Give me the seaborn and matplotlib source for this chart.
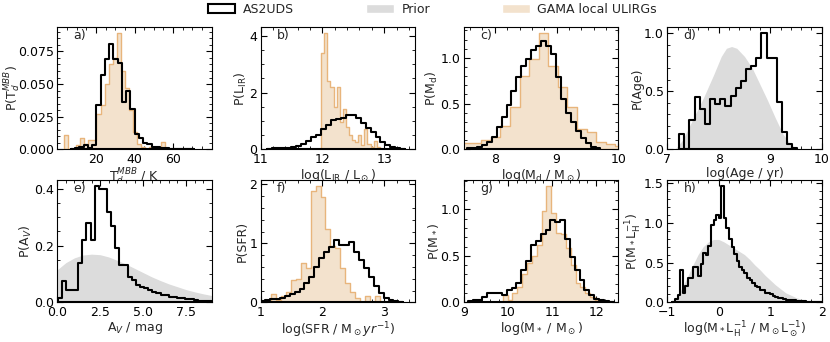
import numpy as np
import pandas as pd
import matplotlib
matplotlib.use('Agg')
import matplotlib.pyplot as plt
from matplotlib.patches import Patch
import seaborn as sns

# ---- histogram data: (first bin edge, bin width, heights) ----
# a) dust temperature
td_as2uds_bins = (7.1, 2.2)
td_as2uds = [0.0, 0.001, 0.002, 0.003, 0.001, 0.003, 0.034, 0.057, 0.069, 0.081,
             0.069, 0.066, 0.036, 0.045, 0.031, 0.012, 0.009, 0.005, 0.004, 0.002,
             0.002, 0.001, 0.001, 0.0005, 0.0005, 0.0, 0.0005, 0.0005, 0.0]
td_gama_bins = (3.5, 2.1)
td_gama = [0.011, 0.0, 0.0, 0.003, 0.009, 0.004, 0.007, 0.007, 0.027, 0.034,
           0.050, 0.065, 0.070, 0.089, 0.060, 0.047, 0.030, 0.013, 0.004, 0.002,
           0.0, 0.002, 0.0, 0.0, 0.006, 0.0]

# b) infrared luminosity
lir_as2uds_bins = (11.10, 0.08)
lir_as2uds = [0.02, 0.03, 0.03, 0.04, 0.06, 0.08, 0.12, 0.18, 0.30, 0.42,
              0.50, 0.70, 0.85, 1.02, 1.08, 1.12, 1.20, 1.20, 1.10, 0.92,
              0.74, 0.60, 0.43, 0.26, 0.14, 0.08, 0.04, 0.02]
lir_gama_bins = (11.98, 0.05)
lir_gama = [3.40, 4.09, 2.40, 2.20, 1.50, 2.19, 0.96, 1.43, 0.80, 0.49,
            0.32, 0.26, 0.49, 0.14, 0.73, 0.20, 0.08, 0.30, 0.08, 0.0]

# c) dust mass
md_as2uds_bins = (7.55, 0.08)
md_as2uds = [0.01, 0.02, 0.03, 0.05, 0.08, 0.13, 0.24, 0.35, 0.49, 0.64,
             0.79, 0.91, 0.99, 1.09, 1.13, 1.18, 1.13, 1.04, 0.79, 0.55,
             0.40, 0.30, 0.20, 0.12, 0.07, 0.03, 0.01]
md_gama_bins = (7.47, 0.155)
md_gama = [0.07, 0.07, 0.10, 0.13, 0.26, 0.46, 0.80, 0.99, 1.27, 0.91,
           0.68, 0.46, 0.22, 0.19, 0.08, 0.06, 0.04]

# d) age
age_as2uds_bins = (7.23, 0.10)
age_as2uds = [0.13, 0.0, 0.25, 0.45, 0.35, 0.22, 0.43, 0.39, 0.43, 0.37,
              0.46, 0.53, 0.59, 0.69, 0.72, 0.79, 1.00, 0.79, 0.79, 0.41,
              0.15, 0.05, 0.01]
age_prior_x = [7.15, 7.3, 7.5, 7.7, 7.9, 8.05, 8.15, 8.25, 8.35, 8.5,
               8.65, 8.8, 8.95, 9.1, 9.25, 9.4, 9.55]
age_prior_y = [0.0, 0.08, 0.26, 0.44, 0.64, 0.80, 0.87, 0.885, 0.87, 0.80,
               0.70, 0.56, 0.42, 0.27, 0.13, 0.04, 0.0]

# e) attenuation
av_as2uds_bins = (0.02, 0.24)
av_as2uds = [0.014, 0.077, 0.044, 0.044, 0.044, 0.14, 0.22, 0.28, 0.22, 0.41,
             0.40, 0.40, 0.32, 0.27, 0.19, 0.13, 0.13, 0.09, 0.08, 0.062,
             0.054, 0.05, 0.044, 0.036, 0.032, 0.027, 0.025, 0.02, 0.018, 0.016,
             0.014, 0.012, 0.011, 0.008, 0.006, 0.005, 0.004, 0.003]
av_prior_x = [0.0, 0.5, 1.0, 1.5, 2.0, 2.5, 3.0, 3.5, 4.0, 4.5,
              5.0, 5.5, 6.0, 6.5, 7.0, 7.5, 8.0, 8.5, 9.0]
av_prior_y = [0.115, 0.14, 0.157, 0.167, 0.17, 0.168, 0.16, 0.148, 0.135, 0.12,
              0.105, 0.09, 0.077, 0.065, 0.055, 0.045, 0.037, 0.03, 0.024]

# f) star formation rate
sfr_as2uds_bins = (0.99, 0.08)
sfr_as2uds = [0.03, 0.04, 0.05, 0.06, 0.08, 0.11, 0.14, 0.18, 0.23, 0.32,
              0.43, 0.60, 0.75, 0.86, 0.94, 1.06, 0.97, 0.97, 1.03, 0.86,
              0.72, 0.58, 0.43, 0.27, 0.15, 0.07, 0.04, 0.02, 0.01]
sfr_gama_bins = (1.17, 0.08)
sfr_gama = [0.14, 0.04, 0.10, 0.18, 0.38, 0.40, 0.66, 0.58, 1.88, 1.97,
            1.79, 1.25, 0.95, 0.92, 0.58, 0.32, 0.18, 0.07, 0.0, 0.10,
            0.0, 0.10, 0.0]

# g) stellar mass
ms_as2uds_bins = (9.09, 0.11)
ms_as2uds = [0.01, 0.02, 0.03, 0.06, 0.10, 0.10, 0.10, 0.08, 0.13, 0.15,
             0.21, 0.35, 0.44, 0.62, 0.66, 0.73, 0.78, 0.89, 0.86, 0.89,
             0.68, 0.49, 0.35, 0.24, 0.13, 0.08, 0.04, 0.02, 0.01, 0.005]
ms_gama_bins = (9.88, 0.11)
ms_gama = [0.08, 0.02, 0.10, 0.16, 0.30, 0.42, 0.50, 0.62, 0.98, 1.25,
           0.96, 0.75, 0.73, 0.58, 0.40, 0.21, 0.17, 0.10, 0.06, 0.03]

# h) mass-to-light ratio
ml_as2uds_bins = (-0.90, 0.05)
ml_as2uds = [0.01, 0.04, 0.09, 0.41, 0.12, 0.20, 0.31, 0.31, 0.44, 0.44,
             0.33, 0.48, 0.62, 0.60, 0.71, 0.97, 1.03, 1.10, 1.06, 1.46,
             1.06, 0.93, 0.80, 0.69, 0.61, 0.52, 0.45, 0.40, 0.37, 0.31,
             0.28, 0.24, 0.21, 0.19, 0.16, 0.15, 0.12, 0.115, 0.10, 0.08,
             0.07, 0.06, 0.05, 0.04, 0.035, 0.03, 0.027, 0.025, 0.018, 0.016,
             0.015, 0.012, 0.01, 0.007, 0.006, 0.005, 0.004, 0.003]
ml_prior_x = [-0.9, -0.8, -0.7, -0.6, -0.5, -0.4, -0.3, -0.2, -0.1, 0.0,
              0.1, 0.2, 0.3, 0.4, 0.5, 0.6, 0.7, 0.8, 0.9, 1.0,
              1.1, 1.2, 1.3, 1.4, 1.5, 1.6, 1.7, 1.8, 1.9, 2.0]
ml_prior_y = [0.0, 0.07, 0.2, 0.33, 0.47, 0.6, 0.7, 0.76, 0.79, 0.79,
              0.76, 0.72, 0.68, 0.64, 0.6, 0.54, 0.47, 0.41, 0.34, 0.28,
              0.22, 0.17, 0.12, 0.09, 0.06, 0.04, 0.025, 0.015, 0.008, 0.004]

# ---- axis ticks ----
td_xticks, td_yticks = [20, 40, 60], [0, 0.025, 0.05, 0.075]
lir_xticks, lir_yticks = [11, 12, 13], [0, 2, 4]
md_xticks, md_yticks = [8, 9, 10], [0, 0.5, 1.0]
age_xticks, age_yticks = [7, 8, 9, 10], [0, 0.5, 1.0]
av_xticks, av_yticks = [0, 2.5, 5.0, 7.5], [0, 0.2, 0.4]
sfr_xticks, sfr_yticks = [1, 2, 3], [0, 1, 2]
ms_xticks, ms_yticks = [9, 10, 11, 12], [0, 0.5, 1.0]
ml_xticks, ml_yticks = [-1, 0, 1, 2], [0, 0.5, 1.0, 1.5]

black = 'black'
prior_col = '#dcdcdc'
gama_face = '#f3e2cd'
gama_edge = '#e8b57c'

sns.set_style('ticks')
plt.rcParams.update({
    'font.size': 9,
    'axes.linewidth': 0.8,
    'axes.edgecolor': 'black',
    'xtick.color': 'black', 'ytick.color': 'black',
    'xtick.direction': 'in', 'ytick.direction': 'in',
    'xtick.top': True, 'ytick.right': True,
    'xtick.minor.visible': True, 'ytick.minor.visible': True,
    'xtick.major.size': 4, 'ytick.major.size': 4,
    'xtick.minor.size': 2, 'ytick.minor.size': 2,
    'xtick.major.width': 0.8, 'ytick.major.width': 0.8,
    'xtick.major.pad': 2.5, 'ytick.major.pad': 2.5,
    'xtick.labelsize': 9, 'ytick.labelsize': 9, 'axes.labelsize': 9,
})

fig, axes = plt.subplots(2, 4, figsize=(8.3, 3.42), dpi=100)
plt.subplots_adjust(left=0.069, right=0.990, top=0.920, bottom=0.116,
                    wspace=0.316, hspace=0.254)


def step_hist(ax, bins, heights, face, edge, lw):
    start, width = bins
    edges = start + width * np.arange(len(heights) + 1)
    df = pd.DataFrame({'x': edges[:-1] + width / 2, 'w': heights})
    sns.histplot(data=df, x='x', weights='w', bins=list(edges),
                 element='step', fill=True, color=edge, facecolor=face,
                 edgecolor=edge, linewidth=lw, ax=ax)


panels = [
    ('a)', (0, 80), td_xticks, td_yticks, r'T$_d^{MBB}$ / K', r'P(T$_d^{MBB}$)',
     (td_as2uds_bins, td_as2uds), (td_gama_bins, td_gama), None),
    ('b)', (11, 13.5), lir_xticks, lir_yticks, r'log(L$_{\rm IR}$ / L$_\odot$)', r'P(L$_{\rm IR}$)',
     (lir_as2uds_bins, lir_as2uds), (lir_gama_bins, lir_gama), None),
    ('c)', (7.5, 10), md_xticks, md_yticks, r'log(M$_{\rm d}$ / M$_\odot$)', r'P(M$_{\rm d}$)',
     (md_as2uds_bins, md_as2uds), (md_gama_bins, md_gama), None),
    ('d)', (7, 10), age_xticks, age_yticks, 'log(Age / yr)', 'P(Age)',
     (age_as2uds_bins, age_as2uds), None, (age_prior_x, age_prior_y)),
    ('e)', (0, 9), av_xticks, av_yticks, r'A$_V$ / mag', r'P(A$_V$)',
     (av_as2uds_bins, av_as2uds), None, (av_prior_x, av_prior_y)),
    ('f)', (1, 3.5), sfr_xticks, sfr_yticks, r'log(SFR / M$_\odot yr^{-1}$)', 'P(SFR)',
     (sfr_as2uds_bins, sfr_as2uds), (sfr_gama_bins, sfr_gama), None),
    ('g)', (9, 12.5), ms_xticks, ms_yticks, r'log(M$_*$ / M$_\odot$)', r'P(M$_*$)',
     (ms_as2uds_bins, ms_as2uds), (ms_gama_bins, ms_gama), None),
    ('h)', (-1, 2), ml_xticks, ml_yticks,
     r'log(M$_*$L$_{\rm H}^{-1}$ / M$_\odot$L$_\odot^{-1}$)', r'P(M$_*$L$_{\rm H}^{-1}$)',
     (ml_as2uds_bins, ml_as2uds), None, (ml_prior_x, ml_prior_y)),
]

for ax, (tag, xlim, xt, yt, xl, yl, main, gama, prior) in zip(axes.flat, panels):
    if prior is not None:
        ax.fill_between(prior[0], prior[1], color=prior_col, lw=0)
    if gama is not None:
        step_hist(ax, gama[0], gama[1], gama_face, gama_edge, 1.0)
    step_hist(ax, main[0], main[1], 'none', black, 1.5)
    ax.set_xlim(*xlim)
    ax.set_ylim(bottom=0)
    ax.set_xticks(xt)
    ax.set_yticks(yt)
    ax.set_xlabel(xl, labelpad=1)
    ax.set_ylabel(yl, labelpad=0)
    ax.text(0.105, 0.985, tag, transform=ax.transAxes, va='top', ha='left')

# the superscripted label of panel a sits over the tick labels, as in the original
axes[0, 0].yaxis.set_label_coords(-0.225, 0.5)

handles = [Patch(facecolor='white', edgecolor=black, linewidth=1.5, label='AS2UDS'),
           Patch(facecolor=prior_col, label='Prior'),
           Patch(facecolor=gama_face, label='GAMA local ULIRGs')]
fig.legend(handles=handles, loc='center', bbox_to_anchor=(0.521, 0.972), ncol=3,
           frameon=False, handlelength=2.2, handleheight=0.75, columnspacing=5.8,
           handletextpad=0.6, fontsize=9)

plt.savefig('out.png', dpi=100)
